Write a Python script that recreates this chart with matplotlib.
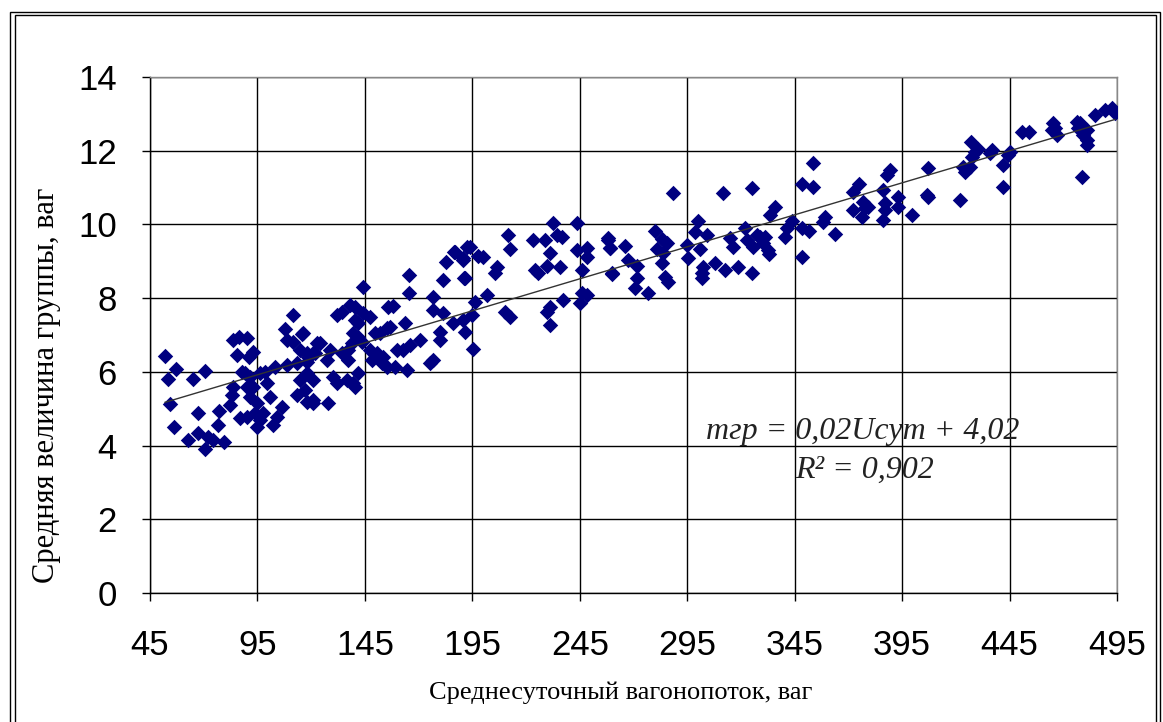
import numpy as np
import matplotlib
matplotlib.use("Agg")
import matplotlib.pyplot as plt
from matplotlib.patches import Rectangle

# ── data: (daily wagon flow, mean group size) ────────────────────────────────
flow = [
    52, 57, 53.4, 65, 70.6, 54.3, 67.3, 77, 56, 76.6, 62.7, 67.3, 72, 74.3, 79.4, 70.6,
    86.4, 90, 85.5, 91, 93, 83.6, 89, 91.5, 88, 83.6, 83, 82.2, 90, 93, 91.5, 87, 90,
    94.8, 94, 96.2, 94.8, 97.6, 100.8, 99.4, 96.2, 98.5, 103, 104, 102, 106.4,
    111.5, 107.8, 115.7, 108.7, 111.5, 114.8, 108.7, 113.4, 118.5, 120.8, 114.8, 118,
    120.8, 113.4, 118, 120.8, 122.7,
    144, 165.5, 165.5, 176.7, 182.7, 186.5, 190.6, 192.5, 181.3, 191, 176.7, 181.3,
    180, 180, 176.7, 175.3, 170.6, 166, 163.6, 164.6, 155.7, 158, 155.3, 152, 156.7,
    149.7, 147.4, 144, 140.4, 138, 132, 134.3, 140.4, 141.8, 139.5, 141.8, 139, 143.6,
    147.4, 150.6, 153.4, 148.3, 153, 155.3, 159, 160, 162.7, 137, 137, 134.3, 128.8,
    127.4, 124, 121.8, 118, 116, 118, 130, 132, 136.6, 139.5, 140.4, 141.8, 117,
    120.8, 127.8,
    232.5, 243.7, 211.6, 223.2, 228.8, 234.4, 236.7, 212.5, 193.9, 186.9, 190.6, 197.6,
    200, 231.1, 206.5, 205.5, 224.2, 225.5, 229.7, 235.8, 191.6, 243.7, 248.3, 248.3,
    246, 258, 259, 260, 201.8, 196.2, 210.2, 212.5, 231.1, 229.7, 237.2, 246, 248.3,
    245, 231.1, 194.8, 190.6, 186, 191.6, 195.3,
    288.4, 311.6, 325, 258, 259, 266, 280, 283.2, 285.6, 281, 283.7, 267.4, 271.6, 260,
    271.6, 270.7, 276.7, 283.2, 284.6, 286, 294.9, 295.3, 300, 298.6, 304.2, 300.9,
    302.3, 301.9, 301.9, 307.9, 312.6, 318.6, 325, 314.9, 316.3, 321.9, 322.8, 325.6,
    328.9, 330.3, 332.6, 333.5,
    353.5, 348.4, 353.5, 335.8, 341.4, 343.7, 348.4, 351.6, 359, 358.2, 363.7, 340.5,
    327.4, 331.2, 333, 348.4, 372, 374.9, 372, 376.8, 377.7, 379, 376.3, 386.1, 388,
    389.3, 387, 387, 386.1, 393, 393, 399.6, 407, 406.6, 407,
    427, 428.9, 430.3, 427.5, 423.3, 426.6, 424.3, 421.9, 436.8, 435.9, 445.2, 444.3,
    441.9, 441.9, 450.8, 454, 465.2, 466.1, 464.7, 467, 476.4, 477.8, 479.2, 476.8,
    481, 479.2, 481, 481, 478.7, 484.7, 489.4, 492.6, 494,
]
group = [
    6.43, 6.07, 5.8, 5.8, 6.02, 5.13, 4.88, 4.94, 4.5, 4.56, 4.15, 4.34, 4.23, 4.15, 4.1, 3.9,
    6.95, 6.92, 6.46, 6.4, 6.54, 6.86, 5.97, 5.86, 6.0, 5.59, 5.37, 5.1, 5.59, 5.59, 5.32, 4.75, 4.77,
    5.15, 4.88, 4.69, 4.5, 4.88, 5.32, 5.7, 5.97, 6.0, 6.13, 4.77, 4.56, 5.05,
    7.54, 7.16, 7.03, 6.86, 6.81, 6.59, 6.19, 6.24, 6.4, 6.51, 5.78, 5.97,
    5.78, 5.37, 5.18, 5.15, 6.78,
    8.3, 8.63, 8.14, 8.03, 8.98, 9.25, 9.03, 9.39, 8.49, 8.55, 7.68, 7.6,
    7.08, 6.86, 6.32, 6.24, 6.86, 6.73, 7.33, 6.05, 7.76, 7.79, 7.19, 7.05, 7.22,
    7.05, 7.49, 7.6, 7.76, 7.81, 7.54, 7.62, 7.41, 7.33, 7.05, 6.95, 6.78, 6.81,
    6.59, 6.51, 6.4, 6.32, 6.24, 6.13, 6.13, 6.59, 6.59, 6.32, 6.59, 6.51, 6.59,
    6.32, 6.78, 6.51, 6.51, 7.05, 6.27, 5.86, 5.7, 5.78, 5.7, 5.59, 5.97, 5.5,
    5.24, 5.15,
    10.04, 10.04, 9.71, 9.58, 9.58, 9.71, 9.66, 9.33, 9.39, 9.25, 9.09, 9.14,
    9.12, 9.22, 8.84, 8.68, 8.76, 8.68, 8.87, 8.84, 8.55, 9.3, 9.36, 9.12,
    8.76, 9.63, 9.36, 8.68, 8.08, 7.89, 7.62, 7.49, 7.76, 7.62, 7.95, 8.14, 8.08,
    7.87, 7.27, 7.54, 7.41, 7.33, 7.08, 6.62,
    10.85, 10.85, 10.99, 9.58, 9.36, 9.41, 9.82, 9.6, 9.5, 9.33, 9.22, 9.03, 8.87, 8.65,
    8.55, 8.27, 8.14, 8.95, 8.57, 8.44, 9.44, 9.09, 10.09, 9.79, 9.71, 9.33,
    8.84, 8.68, 8.55, 8.95, 8.76, 8.84, 8.68, 9.63, 9.39, 9.9, 9.58, 9.39,
    9.66, 9.5, 9.3, 10.26,
    11.67, 11.1, 11.01, 10.47, 9.9, 10.09, 9.9, 9.82, 10.2, 10.07, 9.74, 9.66,
    9.71, 9.66, 9.2, 9.12, 10.88, 11.1, 10.39, 10.61, 10.44, 10.47, 10.2, 10.93, 11.34,
    11.48, 10.58, 10.39, 10.12, 10.74, 10.47, 10.26, 11.53, 10.8, 10.74,
    12.24, 11.96, 12.05, 11.83, 11.56, 11.56, 11.42, 10.66, 12.02, 11.94, 11.96, 11.88,
    11.61, 11.01, 12.51, 12.51, 12.75, 12.62, 12.56, 12.43, 12.78, 12.75, 12.64, 12.62,
    12.56, 12.43, 12.29, 12.15, 11.29, 12.97, 13.1, 13.16, 13.02,
]

x_ticks = [45, 95, 145, 195, 245, 295, 345, 395, 445, 495]
y_ticks = [0, 2, 4, 6, 8, 10, 12, 14]

NAVY = "#000080"

fig = plt.figure(figsize=(11.63, 7.22), dpi=100, facecolor="white")
ax = fig.add_axes([0.129, 0.1787, 0.8315, 0.7147])

# double frame around the whole chart (Excel style)
for off in (0.0, 0.004):
    fig.patches.append(Rectangle((0.0086 + off, -0.05), 0.989 - 2 * off, 1.0334 - off,
                                 transform=fig.transFigure, fill=False,
                                 edgecolor="black", lw=1.0))

ax.scatter(flow, group, marker="D", s=62, color=NAVY, linewidths=0, zorder=3)

# linear trend line
k, b = np.polyfit(flow, group, 1)
xx = np.array([min(flow), max(flow)])
ax.plot(xx, k * xx + b, color="#333333", lw=1.0, zorder=4)

ax.set_xlim(45, 495)
ax.set_ylim(0, 14)
ax.set_xticks(x_ticks)
ax.set_yticks(y_ticks)
ax.grid(True, color="black", lw=1.0, zorder=0)
ax.set_axisbelow(True)
for sp in ax.spines.values():
    sp.set_color("black")
    sp.set_linewidth(1.0)
ax.spines["top"].set_color("#888888")
ax.spines["right"].set_color("#888888")

ax.tick_params(axis="both", direction="out", length=6, width=1, colors="black",
               labelsize=25)
ax.tick_params(axis="x", pad=20)
ax.tick_params(axis="y", pad=18)
for lbl in ax.get_xticklabels() + ax.get_yticklabels():
    lbl.set_fontfamily("Liberation Sans")

fig.text(0.534, 0.04, "Среднесуточный вагонопоток, ваг", family="Liberation Serif",
         fontsize=19, ha="center", va="center")
fig.text(0.04, 0.467, "Средняя величина группы, ваг", family="Liberation Serif",
         fontsize=22, ha="center", va="center", rotation=90)

ax.text(376.5, 4.37, "mгр = 0,02Uсут + 4,02", family="Liberation Serif",
        style="italic", fontsize=23, ha="center", va="center", color="#222222", zorder=5)
ax.text(377.5, 3.34, "R² = 0,902", family="Liberation Serif",
        style="italic", fontsize=23, ha="center", va="center", color="#222222", zorder=5)

fig.savefig("out.png", dpi=100, facecolor="white")
